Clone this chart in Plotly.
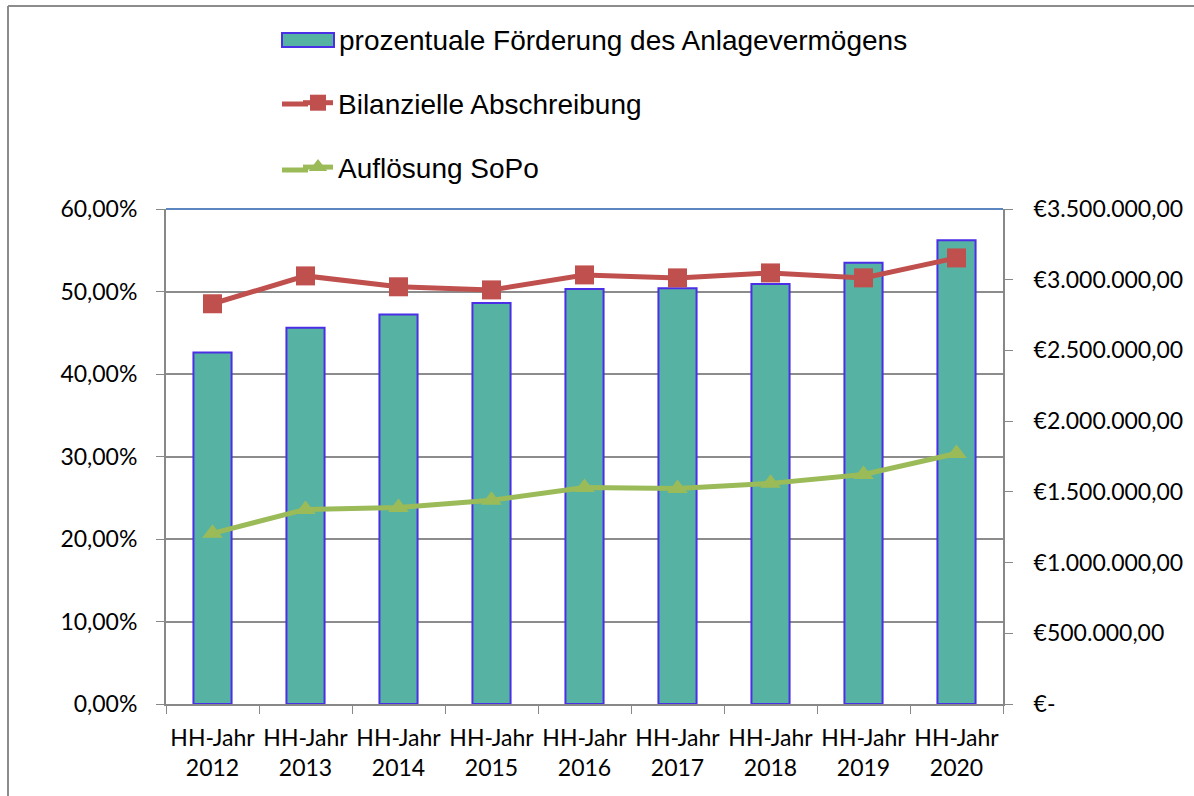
import plotly.graph_objects as go

categories = ["HH-Jahr<br>2012", "HH-Jahr<br>2013", "HH-Jahr<br>2014", "HH-Jahr<br>2015",
              "HH-Jahr<br>2016", "HH-Jahr<br>2017", "HH-Jahr<br>2018", "HH-Jahr<br>2019",
              "HH-Jahr<br>2020"]
foerderung_pct = [42.6, 45.6, 47.2, 48.6, 50.3, 50.4, 50.9, 53.5, 56.2]
abschreibung = [2830000, 3027000, 2950000, 2928000, 3034000, 3013000, 3048000, 3013000, 3154000]
aufloesung = [1207000, 1376000, 1390000, 1440000, 1531000, 1524000, 1560000, 1623000, 1771000]

left_tickvals = [0, 10, 20, 30, 40, 50, 60]
left_ticktext = ["0,00%", "10,00%", "20,00%", "30,00%", "40,00%", "50,00%", "60,00%"]
right_tickvals = [0, 500000, 1000000, 1500000, 2000000, 2500000, 3000000, 3500000]
right_ticktext = ["€-", "€500.000,00", "€1.000.000,00", "€1.500.000,00", "€2.000.000,00",
                  "€2.500.000,00", "€3.000.000,00", "€3.500.000,00"]

bar_name = "prozentuale Förderung des Anlagevermögens"
BAR_FILL, BAR_EDGE = "#56B2A2", "#4B2FE6"
RED, GREEN = "#C0504D", "#9BBB59"

W, H = 1194, 796
L, R, T, B = 166, 1003, 209, 704

fig = go.Figure()
fig.add_trace(go.Bar(
    x=categories, y=foerderung_pct, name=bar_name, showlegend=False,
    marker=dict(color=BAR_FILL, line=dict(color=BAR_EDGE, width=2)),
    width=0.41, yaxis="y"))
fig.add_trace(go.Scatter(
    x=categories, y=abschreibung, name="Bilanzielle Abschreibung", mode="lines+markers",
    line=dict(color=RED, width=5), marker=dict(symbol="square", size=19, color=RED),
    yaxis="y2", legendgroup="b"))
fig.add_trace(go.Scatter(
    x=categories, y=aufloesung, name="Auflösung SoPo", mode="lines+markers",
    line=dict(color=GREEN, width=5), marker=dict(symbol="triangle-up", size=18, color=GREEN),
    yaxis="y2", legendgroup="c"))

pw, ph = R - L, B - T
def px_x(p):
    return (p - L) / pw
def px_y(p):
    return (B - p) / ph

tick_font = dict(family="Lato, Carlito, sans-serif", size=23, color="#000")
legend_font = dict(family="Liberation Sans, Arial, sans-serif", size=28, color="#000")

fig.update_layout(
    width=W, height=H,
    margin=dict(l=L, r=W - R, t=T, b=H - B, autoexpand=False),
    paper_bgcolor="white", plot_bgcolor="white",
    showlegend=True,
    legend=dict(x=px_x(298), y=px_y(78),
                xanchor="left", yanchor="top", traceorder="grouped", tracegroupgap=25,
                font=legend_font, bgcolor="rgba(0,0,0,0)"),
    xaxis=dict(showgrid=False, showline=True, linecolor="#888", linewidth=2,
               ticks="outside", ticklen=8, tickcolor="#888", tickson="boundaries",
               tickfont=tick_font, tickangle=0, range=[-0.5, 8.5], ticklabelstandoff=12),
    yaxis=dict(range=[0, 60], tickvals=left_tickvals, ticktext=left_ticktext,
               showgrid=True, gridcolor="#8C8C8C", gridwidth=2, zeroline=False,
               showline=True, linecolor="#888", linewidth=2,
               ticks="outside", ticklen=8, tickcolor="#888", tickfont=tick_font,
               ticklabelstandoff=14),
    yaxis2=dict(range=[0, 3500000], tickvals=right_tickvals, ticktext=right_ticktext,
                overlaying="y", side="right", showgrid=False, zeroline=False,
                showline=True, linecolor="#888", linewidth=2,
                ticks="outside", ticklen=8, tickcolor="#888", tickfont=tick_font,
                ticklabelstandoff=16),
)

# legend entry for the bar series (wide rectangle symbol, as in the original)
fig.add_shape(type="rect", xref="paper", yref="paper",
              x0=px_x(282), x1=px_x(334), y0=px_y(47), y1=px_y(33),
              fillcolor=BAR_FILL, line=dict(color=BAR_EDGE, width=2), layer="above")
fig.add_annotation(xref="paper", yref="paper", x=px_x(337), y=px_y(40),
                   xanchor="left", yanchor="middle", showarrow=False,
                   text=bar_name, font=legend_font)
# lengthen the legend line samples to the original's width
for yy, col in ((104, RED), (170, GREEN)):
    fig.add_shape(type="line", xref="paper", yref="paper",
                  x0=px_x(282), x1=px_x(308), y0=px_y(yy), y1=px_y(yy),
                  line=dict(color=col, width=5), layer="above")

# top line of plot area (blue) and outer frame (top and left)
fig.add_shape(type="line", xref="paper", yref="paper", x0=0, x1=1, y0=1, y1=1,
              line=dict(color="#5B86C0", width=2), layer="above")
fig.add_shape(type="line", xref="paper", yref="paper", x0=px_x(8), x1=px_x(W), y0=px_y(6), y1=px_y(6),
              line=dict(color="#8C8C8C", width=2))
fig.add_shape(type="line", xref="paper", yref="paper", x0=px_x(8), x1=px_x(8), y0=px_y(6), y1=px_y(H),
              line=dict(color="#8C8C8C", width=2))

fig.write_html("out.html", config={"displayModeBar": False},
               post_script="document.body.style.margin='0';")
